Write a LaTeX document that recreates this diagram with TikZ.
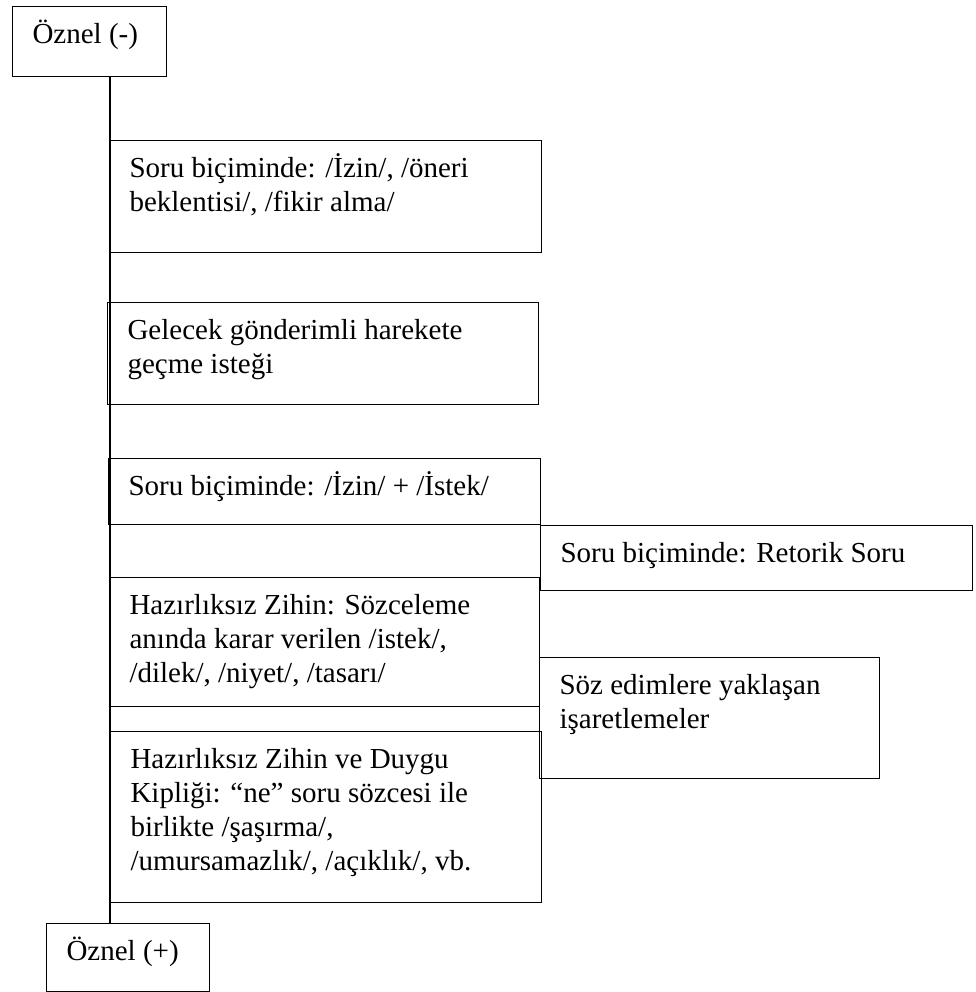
\documentclass[tikz,border=0pt]{standalone}
\usepackage{fontspec}
\setmainfont{Liberation Serif}
% body of a text panel: width, height (pt), text set top-left with 20pt side inset
\newcommand\panelbody[3]{\parbox[t][#2pt][t]{\dimexpr#1pt-40pt\relax}{\raggedright\rule{0pt}{37pt}#3}}
\tikzset{
  panel/.style={draw=black, line width=1.1pt, anchor=north west, inner xsep=20pt, inner ysep=0pt,
    font=\fontsize{29}{34}\selectfont},
  spine/.style={draw=black, line width=1.1pt}
}
\begin{document}
\begin{tikzpicture}[x=1pt,y=-1pt]
\useasboundingbox (0,0) rectangle (975,992);

\node[panel] (top) at (12,6) {\panelbody{154}{70}{Öznel (-)}};
\node[panel] (b1) at (109,140) {\panelbody{432}{112}{Soru biçiminde: /İzin/, /öneri\\beklentisi/, /fikir alma/}};
\node[panel] (b2) at (107,302) {\panelbody{431}{102}{Gelecek gönderimli harekete\\geçme isteği}};
\node[panel] (b3) at (108,458) {\panelbody{432}{66}{Soru biçiminde: /İzin/ + /İstek/}};
\node[panel] (ret) at (540,525) {\panelbody{432}{65}{Soru biçiminde: Retorik Soru}};
\node[panel] (b4) at (109,577) {\panelbody{430}{129}{Hazırlıksız Zihin: Sözceleme\\anında karar verilen /istek/,\\/dilek/, /niyet/, /tasarı/}};
\node[panel] (soz) at (539,657) {\panelbody{340}{121}{Söz edimlere yaklaşan\\işaretlemeler}};
\node[panel] (b6) at (110,731) {\panelbody{431}{171}{Hazırlıksız Zihin ve Duygu\\Kipliği: “ne” soru sözcesi ile\\birlikte /şaşırma/,\\/umursamazlık/, /açıklık/, vb.}};
\node[panel] (bot) at (46,923) {\panelbody{163}{68}{Öznel (+)}};

% vertical spine joining the two ends of the scale
\coordinate (axis) at (110,0);
\draw[spine] (top.south -| axis) -- (bot.north -| axis);
\end{tikzpicture}
\end{document}
